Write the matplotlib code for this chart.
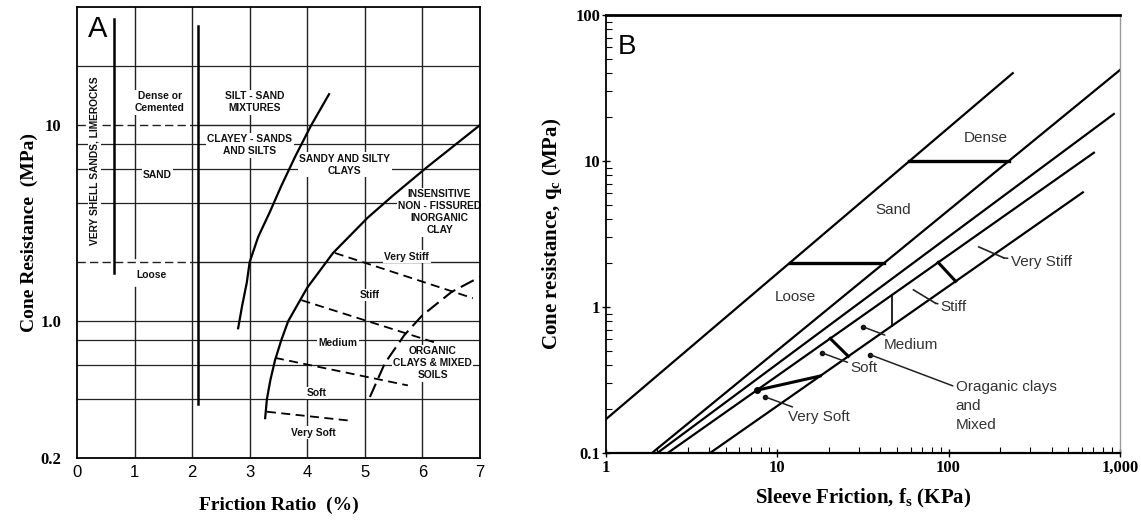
import numpy as np
import matplotlib.pyplot as plt
from matplotlib.ticker import NullFormatter

plt.rcParams['font.family'] = ['Liberation Sans', 'DejaVu Sans']
plt.rcParams['mathtext.fontset'] = 'custom'
plt.rcParams['mathtext.rm'] = 'Liberation Serif'
plt.rcParams['mathtext.bf'] = 'Liberation Serif:bold'

# ---------------- panel A data (friction ratio %, cone resistance MPa) ----------------
a_grid_q = [20, 10, 8, 6, 4, 2, 1, 0.8, 0.6, 0.4]
a_dashed_q = [10, 2]          # dashed on the left part
a_grid_r = [1, 2, 3, 4, 5, 6]

shell_r, shell_q = 0.65, [1.76, 35]
sand_r, sand_q = 2.1, [0.38, 32]

siltsand_r = [2.8, 2.87, 2.95, 3.0, 3.15, 3.35, 3.55, 3.8, 4.07, 4.38]
siltsand_q = [0.92, 1.2, 1.57, 2.0, 2.7, 3.6, 4.9, 7.0, 10, 14.4]

clay_r = [3.27, 3.3, 3.36, 3.44, 3.55, 3.67, 4.0, 4.45, 5.05, 5.5, 6.08, 7.0]
clay_q = [0.32, 0.4, 0.5, 0.63, 0.8, 1.0, 1.48, 2.23, 3.37, 4.4, 6.1, 10]

organic_r = [5.09, 5.35, 5.69, 6.0, 6.51, 7.0]
organic_q = [0.41, 0.61, 0.85, 1.07, 1.41, 1.68]

# consistency boundaries (r0, q0, r1, q1)
consist_a = [(4.48, 2.23, 6.88, 1.31),
             (3.9, 1.28, 6.27, 0.77),
             (3.44, 0.65, 5.75, 0.47),
             (3.3, 0.345, 4.77, 0.31)]

# ---------------- panel B data (sleeve friction kPa, cone resistance MPa) ----------------
b_line_fs = [(1, 237), (1.86, 1000), (2.0, 922), (2.3, 705), (4.06, 608)]
b_line_qc = [(0.17, 40), (0.1, 42), (0.1, 21), (0.1, 11.4), (0.1, 6.1)]
dense_qc = 10
loose_qc = 2
# clay consistency boundaries: (line i, fs on i, line j, fs on j)
consist_b = [(3, 87, 4, 110),
             (3, 47, 4, 47),
             (3, 20.4, 4, 26),
             (3, 7.6, 4, 17.8)]


def qc_on(i, fs):
    (f0, f1), (q0, q1) = b_line_fs[i], b_line_qc[i]
    t = (np.log10(fs) - np.log10(f0)) / (np.log10(f1) - np.log10(f0))
    return 10 ** (np.log10(q0) + t * (np.log10(q1) - np.log10(q0)))


def fs_on(i, qc):
    (f0, f1), (q0, q1) = b_line_fs[i], b_line_qc[i]
    t = (np.log10(qc) - np.log10(q0)) / (np.log10(q1) - np.log10(q0))
    return 10 ** (np.log10(f0) + t * (np.log10(f1) - np.log10(f0)))


fig = plt.figure(figsize=(11.41, 5.2), dpi=100)
axA = fig.add_axes([0.0675, 0.119, 0.353, 0.867])
axB = fig.add_axes([0.531, 0.129, 0.4505, 0.842])

# ================= A =================
axA.set_yscale('log')
axA.set_xlim(0, 7)
axA.set_ylim(0.2, 40)

for q in a_grid_q:
    if q in a_dashed_q:
        axA.plot([0, 2.1], [q, q], color='#222', lw=1.0, ls=(0, (6, 3)), zorder=1)
        axA.plot([2.1, 7], [q, q], color='#222', lw=1.0, zorder=1)
    else:
        axA.plot([0, 7], [q, q], color='#222', lw=0.9, zorder=1)
for r in a_grid_r:
    if r == 1:
        axA.plot([r, r], [0.2, 1.5], color='#222', lw=1.0, zorder=1)
        axA.plot([r, r], [2.1, 40], color='#222', lw=1.0, zorder=1)
    else:
        axA.plot([r, r], [0.2, 40], color='#222', lw=1.0, zorder=1)

axA.plot([shell_r, shell_r], shell_q, color='black', lw=1.8, zorder=3)
axA.plot([sand_r, sand_r], sand_q, color='black', lw=1.8, zorder=3)
axA.plot(siltsand_r, siltsand_q, color='black', lw=1.6, zorder=3)
axA.plot(clay_r, clay_q, color='black', lw=1.6, zorder=3)
axA.plot(organic_r, organic_q, color='black', lw=1.5, ls=(0, (7, 3)), zorder=3)
for r0, q0, r1, q1 in consist_a:
    axA.plot([r0, r1], [q0, q1], color='black', lw=1.3, ls=(0, (5, 3)), zorder=3)

lab = dict(family=['Liberation Sans Narrow', 'Liberation Sans'], fontweight='bold',
           fontsize=7.4, ha='center', va='center', color='#111', zorder=2,
           bbox=dict(fc='white', ec='none', pad=1.0), linespacing=1.25)
axA.text(0.3, 6.6, 'VERY SHELL SANDS, LIMEROCKS', rotation=90, **lab)
axA.text(1.44, 13.1, 'Dense or\nCemented', **lab)
axA.text(3.09, 13.1, 'SILT - SAND\nMIXTURES', **lab)
axA.text(3.0, 7.9, 'CLAYEY - SANDS\nAND SILTS', **lab)
axA.text(1.4, 5.6, 'SAND', **lab)
axA.text(4.65, 6.3, 'SANDY AND SILTY\nCLAYS', **lab)
axA.text(6.3, 3.6, 'INSENSITIVE\nNON - FISSURED\nINORGANIC\nCLAY', **lab)
axA.text(5.73, 2.13, 'Very Stiff', **lab)
axA.text(5.09, 1.36, 'Stiff', **lab)
axA.text(4.53, 0.77, 'Medium', **lab)
axA.text(6.18, 0.61, 'ORGANIC\nCLAYS & MIXED\nSOILS', **lab)
axA.text(4.16, 0.43, 'Soft', **lab)
axA.text(4.1, 0.27, 'Very Soft', **lab)
axA.text(1.3, 1.72, 'Loose', **lab)
axA.text(0.19, 31, 'A', fontsize=21, ha='left', va='center', zorder=4)

axA.set_xticks(range(8))
axA.set_yticks([0.2, 1, 10])
axA.set_yticklabels(['0.2', '1.0', '10'], family='Liberation Serif', fontweight='bold', fontsize=12)
axA.yaxis.set_minor_formatter(NullFormatter())
axA.tick_params(which='both', length=0)
axA.tick_params(axis='y', pad=11)
axA.tick_params(axis='x', pad=5, labelsize=12)
for s in axA.spines.values():
    s.set_linewidth(1.3)
axA.set_xlabel('Friction Ratio  (%)', family='Liberation Serif', fontweight='bold',
               fontsize=14, labelpad=12)
axA.set_ylabel('Cone Resistance  (MPa)', family='Liberation Serif', fontweight='bold',
               fontsize=14, labelpad=2)

# ================= B =================
axB.set_xscale('log')
axB.set_yscale('log')
axB.set_xlim(1, 1000)
axB.set_ylim(0.1, 100)

for fs, qc in zip(b_line_fs, b_line_qc):
    axB.plot(fs, qc, color='black', lw=1.6)

axB.plot([fs_on(0, dense_qc), fs_on(1, dense_qc)], [dense_qc, dense_qc], color='black', lw=2.4)
axB.plot([fs_on(0, loose_qc), fs_on(1, loose_qc)], [loose_qc, loose_qc], color='black', lw=2.4)

for k, (i, fi, j, fj) in enumerate(consist_b):
    lw = 1.2 if k == 1 else 2.2
    axB.plot([fi, fj], [qc_on(i, fi), qc_on(j, fj)], color='black', lw=lw)
i, fi = consist_b[3][0], consist_b[3][1]
axB.plot([fi], [qc_on(i, fi)], 'o', color='black', ms=4)

tb = dict(fontsize=11, color='#333')
axB.text(164, 14.4, 'Dense', ha='center', va='center', **tb)
axB.text(47.7, 4.6, 'Sand', ha='center', va='center', **tb)
axB.text(12.7, 1.17, 'Loose', ha='center', va='center', **tb)

lead = dict(arrowprops=dict(arrowstyle='-', color='#222', lw=1.1, shrinkA=0, shrinkB=0),
            ha='left', va='center', **tb)
axB.plot([150, 210], [2.58, 2.17], color='#222', lw=1.2)
axB.annotate('Very Stiff', xy=(210, 2.17), xytext=(230, 2.03), **lead)
axB.plot([62.4, 84], [1.31, 1.06], color='#222', lw=1.2)
axB.annotate('Stiff', xy=(84, 1.06), xytext=(90, 1.0), **lead)
axB.annotate('Medium', xy=(31.8, 0.73), xytext=(41.7, 0.55), **lead)
axB.annotate('Soft', xy=(18.3, 0.484), xytext=(26.7, 0.38), **lead)
axB.annotate('Oraganic clays\nand\nMixed', xy=(35, 0.47), xytext=(110, 0.316),
             arrowprops=dict(arrowstyle='-', color='#222', lw=1.1, shrinkA=0, shrinkB=0),
             ha='left', va='top', linespacing=1.45, **tb)
axB.annotate('Very Soft', xy=(8.5, 0.242), xytext=(11.6, 0.177), **lead)
axB.plot([31.8, 18.3, 35, 8.5], [0.73, 0.484, 0.47, 0.242], 'o', color='#111', ms=3)

axB.text(1.18, 60, 'B', fontsize=20, ha='left', va='center')

axB.set_xticks([1, 10, 100, 1000])
axB.set_xticklabels(['1', '10', '100', '1,000'])
axB.set_yticks([0.1, 1, 10, 100])
axB.set_yticklabels(['0.1', '1', '10', '100'])
axB.xaxis.set_minor_formatter(NullFormatter())
axB.yaxis.set_minor_formatter(NullFormatter())
for lbl in axB.get_xticklabels() + axB.get_yticklabels():
    lbl.set_family('Liberation Serif')
    lbl.set_fontweight('bold')
    lbl.set_fontsize(12)
axB.tick_params(which='major', direction='inout', length=6, width=1.0)
axB.tick_params(which='minor', direction='in', length=4, width=0.8)
axB.tick_params(axis='x', pad=2)
axB.tick_params(axis='y', pad=1)
axB.spines['top'].set_linewidth(2.0)
axB.spines['left'].set_linewidth(1.3)
axB.spines['bottom'].set_linewidth(1.6)
axB.spines['right'].set_linewidth(1.0)
axB.spines['right'].set_color('#999')
axB.set_xlabel(r'Sleeve Friction, f$_\mathbf{s}$ (KPa)', family='Liberation Serif',
               fontweight='bold', fontsize=15, labelpad=8)
axB.set_ylabel(r'Cone resistance, q$_\mathbf{c}$ (MPa)', family='Liberation Serif',
               fontweight='bold', fontsize=15, labelpad=8)

fig.savefig('out.png', dpi=100)
